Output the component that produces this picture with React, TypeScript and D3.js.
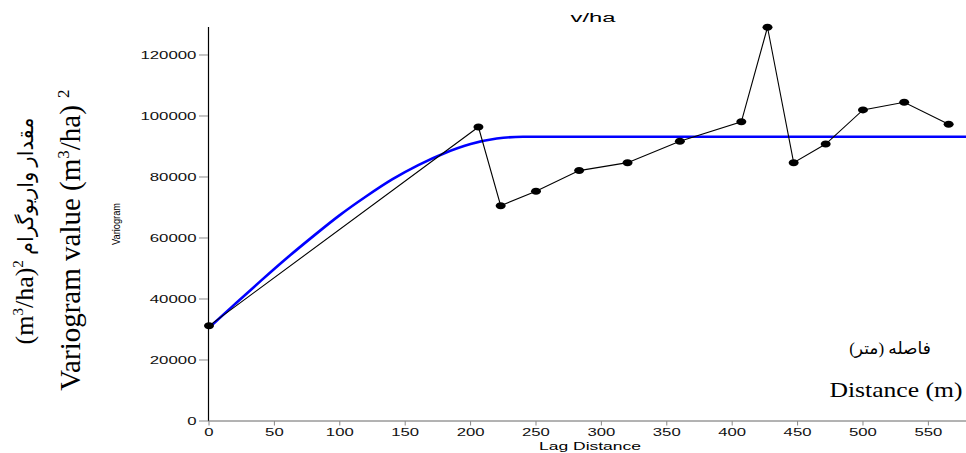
import React from 'react';
import * as d3 from 'd3';

// experimental variogram points (lag distance, semivariance)
const lagDistance = [0, 206, 223, 250, 283, 320, 360, 407, 427, 447, 471.5, 500, 531.5, 565.5];
const semivariance = [31200, 96400, 70600, 75300, 82100, 84700, 91700, 98100, 129100, 84700, 90800, 102000, 104500, 97300];

// fitted model curve
const modelDistance = [0, 20, 40, 60, 80, 100, 120, 140, 160, 180, 200, 220, 240, 580];
const modelValue = [30600, 38400, 46100, 53600, 60700, 67500, 73600, 79200, 83900, 87800, 90800, 92600, 93200, 93200];

const xTicks = [0, 50, 100, 150, 200, 250, 300, 350, 400, 450, 500, 550];
const yTicks = [0, 20000, 40000, 60000, 80000, 100000, 120000];

const W = 966;
const H = 453;
const sans = 'Liberation Sans, Arial, sans-serif';
const serif = 'Liberation Serif, Times New Roman, DejaVu Sans, serif';

const App = () => {
  const x = d3.scaleLinear().domain([0, 578]).range([209, 965]);
  const y = d3.scaleLinear().domain([0, 129180]).range([421, 27]);

  const pts = lagDistance.map((d, i) => [x(d), y(semivariance[i])] as [number, number]);
  const model = modelDistance.map((d, i) => [x(d), y(modelValue[i])] as [number, number]);

  const dataLine = d3.line();
  const modelLine = d3.line().curve(d3.curveMonotoneX);

  return (
    <svg width={W} height={H} style={{ position: 'absolute', left: 0, top: 0, background: '#fff' }}>
      {/* title */}
      <text x={593} y={22} textAnchor="middle" fontFamily={sans} fontSize={12}
        textLength={45} lengthAdjust="spacingAndGlyphs">v/ha</text>

      {/* y axis */}
      <line x1={208.5} x2={208.5} y1={27} y2={421} stroke="#000" strokeWidth={1.2} />
      {yTicks.map(t => (
        <g key={t}>
          <line x1={199} x2={208} y1={y(t)} y2={y(t)} stroke="#8a8a8a" strokeWidth={1} />
          <text x={196.5} y={y(t) + 4} textAnchor="end" fontFamily={sans} fontSize={10.5}
            textLength={String(t).length * 9.35} lengthAdjust="spacingAndGlyphs" fill="#111">{t}</text>
        </g>
      ))}

      {/* x axis */}
      <line x1={208} x2={966} y1={421} y2={421} stroke="#666" strokeWidth={1} />
      {xTicks.map(t => (
        <g key={t}>
          <line x1={x(t)} x2={x(t)} y1={421} y2={425.5} stroke="#8a8a8a" strokeWidth={1} />
          <text x={x(t)} y={435.5} textAnchor="middle" fontFamily={sans} fontSize={10.5}
            textLength={String(t).length * 9.3} lengthAdjust="spacingAndGlyphs" fill="#111">{t}</text>
        </g>
      ))}
      <text x={590} y={450} textAnchor="middle" fontFamily={sans} fontSize={10}
        textLength={102} lengthAdjust="spacingAndGlyphs">Lag Distance</text>

      {/* small axis name */}
      <text transform="translate(120,224) rotate(-90)" textAnchor="middle" fontFamily={sans} fontSize={10}
        textLength={42} lengthAdjust="spacingAndGlyphs">Variogram</text>

      {/* model */}
      <path d={modelLine(model) || ''} fill="none" stroke="#0000ff" strokeWidth={2.6} />

      {/* experimental */}
      <path d={dataLine(pts) || ''} fill="none" stroke="#000" strokeWidth={1.1} />
      {pts.map((p, i) => (
        <ellipse key={i} cx={p[0]} cy={p[1]} rx={5} ry={3.5} fill="#000" />
      ))}

      {/* left labels */}
      <text transform="translate(33,231) rotate(-90)" textAnchor="middle" fontFamily={serif} fontSize={26}>
        <tspan>(m</tspan>
        <tspan dy={-10} fontSize={15}>3</tspan>
        <tspan dy={10}>/ha)</tspan>
        <tspan dy={-10} fontSize={15}>2</tspan>
        <tspan dy={10} fontSize={21}> مقدار واریوگرام</tspan>
      </text>
      <text transform="translate(80,240) rotate(-90)" textAnchor="middle" fontFamily={serif} fontSize={29}>
        <tspan>Variogram value (m</tspan>
        <tspan dy={-11} fontSize={17}>3</tspan>
        <tspan dy={11}>/ha) </tspan>
        <tspan dy={-11} fontSize={17}>2</tspan>
      </text>

      {/* right labels */}
      <text x={890} y={354} textAnchor="middle" direction="rtl" fontFamily={serif} fontSize={17}>فاصله (متر)</text>
      <text x={896} y={397} textAnchor="middle" fontFamily={serif} fontSize={21}
        textLength={133} lengthAdjust="spacingAndGlyphs">Distance (m)</text>
    </svg>
  );
};

export default App;
